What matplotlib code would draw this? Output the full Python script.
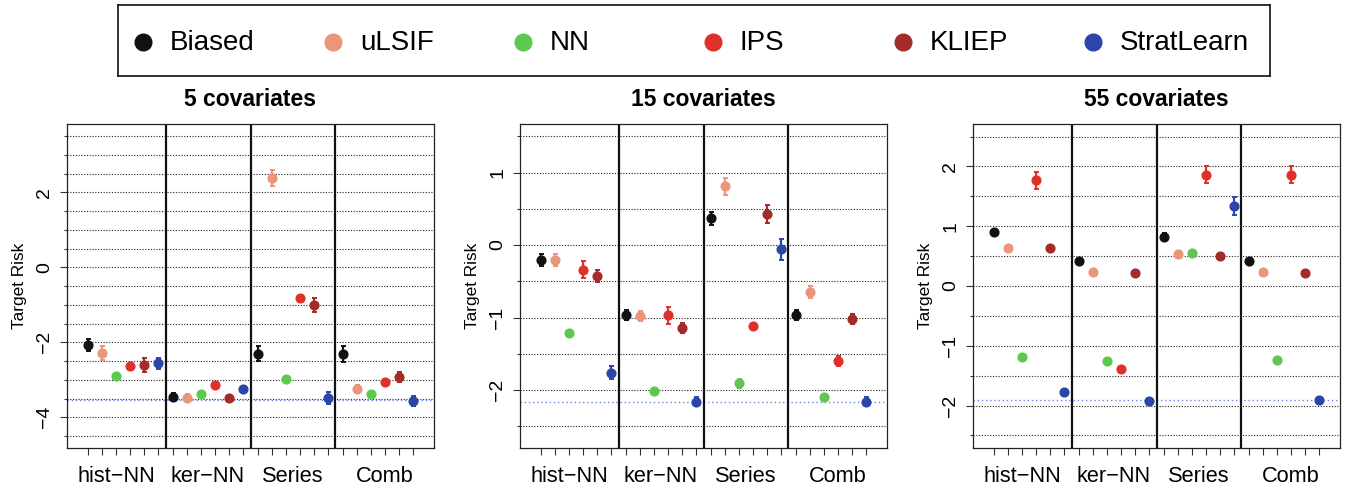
import numpy as np
import matplotlib
matplotlib.use('Agg')
import matplotlib.pyplot as plt
from matplotlib.transforms import blended_transform_factory

plt.rcParams['font.family'] = ['Liberation Sans', 'DejaVu Sans']

methods = ['Biased', 'uLSIF', 'NN', 'IPS', 'KLIEP', 'StratLearn']
colors = ['#111111', '#E9967A', '#5CC84E', '#E0302A', '#A52A2A', '#2B45A8']
groups = ['hist\u2212NN', 'ker\u2212NN', 'Series', 'Comb']
group_label_x = [3, 9.5, 15.5, 22]
titles = ['5 covariates', '15 covariates', '55 covariates']

# rows = estimator (hist-NN, ker-NN, Series, Comb), cols = methods
risk_5 = [[-2.07, -2.29, -2.89, -2.63, -2.60, -2.56],
          [-3.45, -3.49, -3.39, -3.14, -3.49, -3.24],
          [-2.31, 2.39, -2.99, -0.83, -1.00, -3.48],
          [-2.31, -3.25, -3.38, -3.05, -2.92, -3.56]]
se_5 = [[0.15, 0.19, 0.05, 0.08, 0.18, 0.15],
        [0.10, 0.10, 0.05, 0.08, 0.08, 0.07],
        [0.20, 0.21, 0.05, 0.05, 0.19, 0.16],
        [0.22, 0.10, 0.06, 0.07, 0.14, 0.14]]
risk_15 = [[-0.21, -0.21, -1.21, -0.34, -0.43, -1.76],
           [-0.97, -0.98, -2.02, -0.97, -1.14, -2.16],
           [0.37, 0.81, -1.91, -1.12, 0.43, -0.06],
           [-0.97, -0.65, -2.10, -1.60, -1.02, -2.16]]
se_15 = [[0.085, 0.08, 0.03, 0.12, 0.08, 0.085],
         [0.07, 0.07, 0.03, 0.115, 0.07, 0.06],
         [0.09, 0.115, 0.06, 0.05, 0.125, 0.145],
         [0.07, 0.08, 0.03, 0.07, 0.07, 0.06]]
risk_55 = [[0.90, 0.64, -1.19, 1.77, 0.64, -1.77],
           [0.42, 0.24, -1.25, -1.39, 0.22, -1.92],
           [0.82, 0.53, 0.55, 1.86, 0.51, 1.34],
           [0.42, 0.24, -1.24, 1.86, 0.22, -1.91]]
se_55 = [[0.05, 0.04, 0.03, 0.14, 0.05, 0.05],
         [0.05, 0.04, 0.03, 0.04, 0.05, 0.04],
         [0.06, 0.05, 0.04, 0.14, 0.05, 0.15],
         [0.05, 0.04, 0.03, 0.14, 0.05, 0.04]]
oracle = [-3.54, -2.16, -1.906]

risks = [risk_5, risk_15, risk_55]
ses = [se_5, se_15, se_55]
ylims = [(-4.82, 3.82), (-2.80, 1.67), (-2.71, 2.71)]
major_step = [2, 1, 1]

W, H = 1347, 491
fig = plt.figure(figsize=(W / 100, H / 100), dpi=100)

lefts = [67, 520, 973]
aw, ah, abottom = 367, 324, 448

for k in range(3):
    ax = fig.add_axes([lefts[k] / W, 1 - abottom / H, aw / W, ah / H])
    lo, hi = ylims[k]
    n_grp, n_m = len(groups), len(methods)

    # dotted horizontal grid every 0.5
    for v in np.arange(np.ceil(lo * 2) / 2, hi, 0.5):
        ax.axhline(v, color='#222222', lw=0.8, ls=(0, (1, 1.5)), zorder=1)
    ax.axhline(oracle[k], color='#6E84E6', lw=1.0, ls=(0, (1, 2)), zorder=2)
    for b in range(1, n_grp):
        ax.axvline(b * n_m + 0.5, color='#111111', lw=1.6, zorder=2)

    for j in range(n_m):
        xs = [g * n_m + j + 1 for g in range(n_grp)]
        ys = [risks[k][g][j] for g in range(n_grp)]
        es = [ses[k][g][j] for g in range(n_grp)]
        ax.errorbar(xs, ys, yerr=es, fmt='o', color=colors[j], ms=6.3,
                    elinewidth=1.6, capsize=1.8, capthick=1.4, zorder=3)

    ax.set_xlim(-0.46, n_grp * n_m + 1.46)
    ax.set_ylim(lo, hi)
    ax.set_xticks(np.arange(1, n_grp * n_m + 1))
    ax.set_xticklabels([])
    ax.tick_params(axis='x', length=5, width=0.8, color='#333333')

    step = major_step[k]
    ax.set_yticks(np.arange(np.ceil(lo / step) * step, hi, step))
    ax.set_yticks(np.arange(np.ceil(lo * 2) / 2, hi, 0.5), minor=True)
    ax.tick_params(axis='y', which='major', length=5, width=0.8, labelsize=14,
                   pad=5, labelrotation=90, color='#333333')
    ax.tick_params(axis='y', which='minor', length=2, width=0.8, color='#333333')
    for lab in ax.get_yticklabels():
        lab.set_verticalalignment('center')
    for s in ax.spines.values():
        s.set_linewidth(0.9)
        s.set_color('#222222')

    trans = blended_transform_factory(ax.transData, ax.transAxes)
    for gx, gl in zip(group_label_x, groups):
        ax.text(gx, -34 / ah, gl, transform=trans, ha='center', va='baseline',
                fontsize=15.7)

    ax.set_ylabel('Target Risk', fontsize=12.4)
    ax.yaxis.set_label_coords(-40 / aw, 0.5)
    ax.set_title(titles[k], fontsize=16.5, fontweight='bold', pad=13)

# legend box drawn by hand to keep R's even spacing
lx0, lx1, ly0, ly1 = 118, 1270, 5, 76
lax = fig.add_axes([lx0 / W, 1 - ly1 / H, (lx1 - lx0) / W, (ly1 - ly0) / H])
lax.set_xlim(0, lx1 - lx0)
lax.set_ylim(0, ly1 - ly0)
lax.set_xticks([])
lax.set_yticks([])
for s in lax.spines.values():
    s.set_linewidth(1.2)
    s.set_color('#111111')
for j, (m, c) in enumerate(zip(methods, colors)):
    mx = 25 + 190 * j
    lax.plot(mx, 34, 'o', ms=12, color=c, clip_on=False)
    lax.text(mx + 27, 26, m, fontsize=20, va='baseline', ha='left')

fig.savefig('out.png', dpi=100)
